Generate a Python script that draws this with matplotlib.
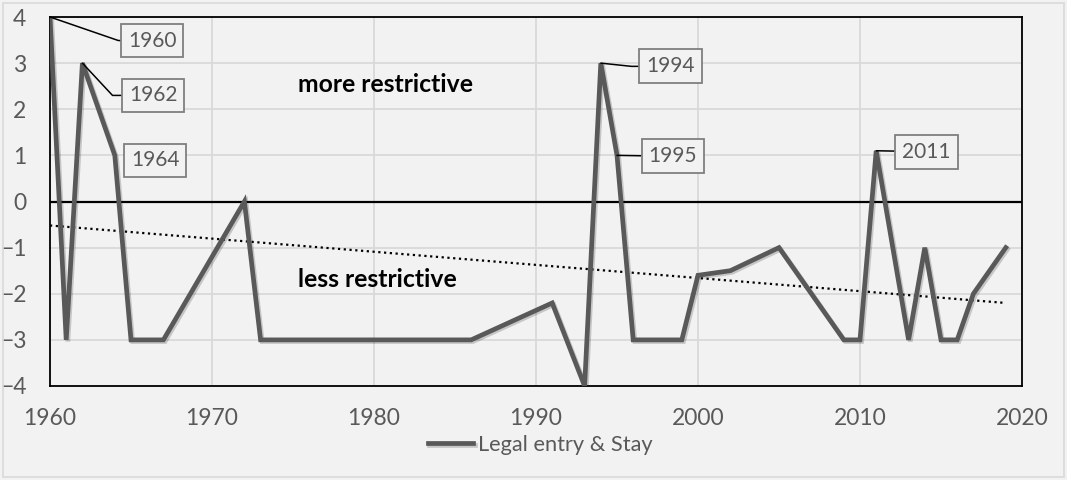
import matplotlib
matplotlib.use('Agg')
import matplotlib.pyplot as plt
import matplotlib.patheffects as pe
from matplotlib.patches import Rectangle

plt.rcParams['font.family'] = ['Lato', 'DejaVu Sans']

# Data
years = [1960, 1961, 1962, 1963, 1964, 1965, 1967, 1972, 1973, 1986, 1991, 1993,
         1994, 1995, 1996, 1999, 2000, 2002, 2005, 2009, 2010, 2011, 2013, 2014,
         2015, 2016, 2017, 2019]
values = [4, -3, 3, 2, 1, -3, -3, 0, -3, -3, -2.2, -4,
          3, 1, -3, -3, -1.6, -1.5, -1, -3, -3, 1.1, -3, -1,
          -3, -3, -2, -1]

# linear trend (Excel trendline), end values
trend_years = [1960, 2019]
trend_values = [-0.52, -2.2]

# labelled points
label_years = [1960, 1962, 1964, 1994, 1995, 2011]
label_values = [4, 3, 1, 3, 1, 1.1]
label_pos = [(1966.3, 3.49), (1966.36, 2.3), (1966.5, 0.89),
             (1998.3, 2.93), (1998.45, 0.98), (2014.1, 1.08)]
leader_angle = [-19, -47, None, -6, 0, 0]

series_name = 'Legal entry & Stay'
bg = '#f2f2f2'
grey = '#595959'

fig = plt.figure(figsize=(10.67, 4.8), dpi=100, facecolor=bg)
ax = fig.add_axes([50 / 1067, 1 - 386 / 480, 972 / 1067, 369 / 480])
ax.set_facecolor(bg)

fig.patches.append(Rectangle((3 / 1067, 3 / 480), 1061 / 1067, 474 / 480,
                             transform=fig.transFigure, fill=False,
                             edgecolor='#d9d9d9', linewidth=1.2))

ax.set_xlim(1960, 2020)
ax.set_ylim(-4, 4)
ax.set_xticks(range(1960, 2021, 10))
ax.set_yticks(range(-4, 5))
ax.grid(True, color='#d9d9d9', linewidth=1.3)
ax.set_axisbelow(True)
ax.tick_params(length=0, labelsize=16.5, labelcolor=grey)
ax.tick_params(axis='y', pad=17)
ax.tick_params(axis='x', pad=16)
for s in ax.spines.values():
    s.set_color('black')
    s.set_linewidth(1.3)

ax.axhline(0, color='black', linewidth=1.6, zorder=2)

ax.plot(trend_years, trend_values, color='black', linestyle=(0, (1, 1.6)),
        linewidth=1.6, zorder=3)

ax.plot(years, values, color=grey, linewidth=3.4, label=series_name, zorder=4,
        solid_joinstyle='miter',
        path_effects=[pe.SimpleLineShadow(offset=(1.2, -1.2), alpha=0.18),
                      pe.Normal()])

for yr, v, pos, ang in zip(label_years, label_values, label_pos, leader_angle):
    if ang is None:
        arrow = None
    elif ang == 0:
        arrow = dict(arrowstyle='-', color='black', linewidth=1.1,
                     shrinkA=0, shrinkB=0)
    else:
        arrow = dict(arrowstyle='-', color='black', linewidth=1.1,
                     shrinkA=0, shrinkB=0,
                     connectionstyle='angle,angleA=0,angleB=%d,rad=0' % ang)
    ax.annotate(str(yr), xy=(yr, v), xytext=pos, ha='center', va='center',
                fontsize=15, color=grey, zorder=5,
                bbox=dict(boxstyle='square,pad=0.33', facecolor=bg,
                          edgecolor='#7f7f7f', linewidth=1.3),
                arrowprops=arrow)

ax.text(1980.7, 2.54, 'more restrictive', ha='center', va='center',
        fontsize=17.8, fontweight='bold', color='black')
ax.text(1980.2, -1.69, 'less restrictive', ha='center', va='center',
        fontsize=17.8, fontweight='bold', color='black')

fig.legend(loc='center', bbox_to_anchor=(540 / 1067, 1 - 445 / 480),
           frameon=False, fontsize=15.7, labelcolor=grey, handlelength=2.1,
           handletextpad=0.2)

fig.savefig('out.png', dpi=100, facecolor=bg)
